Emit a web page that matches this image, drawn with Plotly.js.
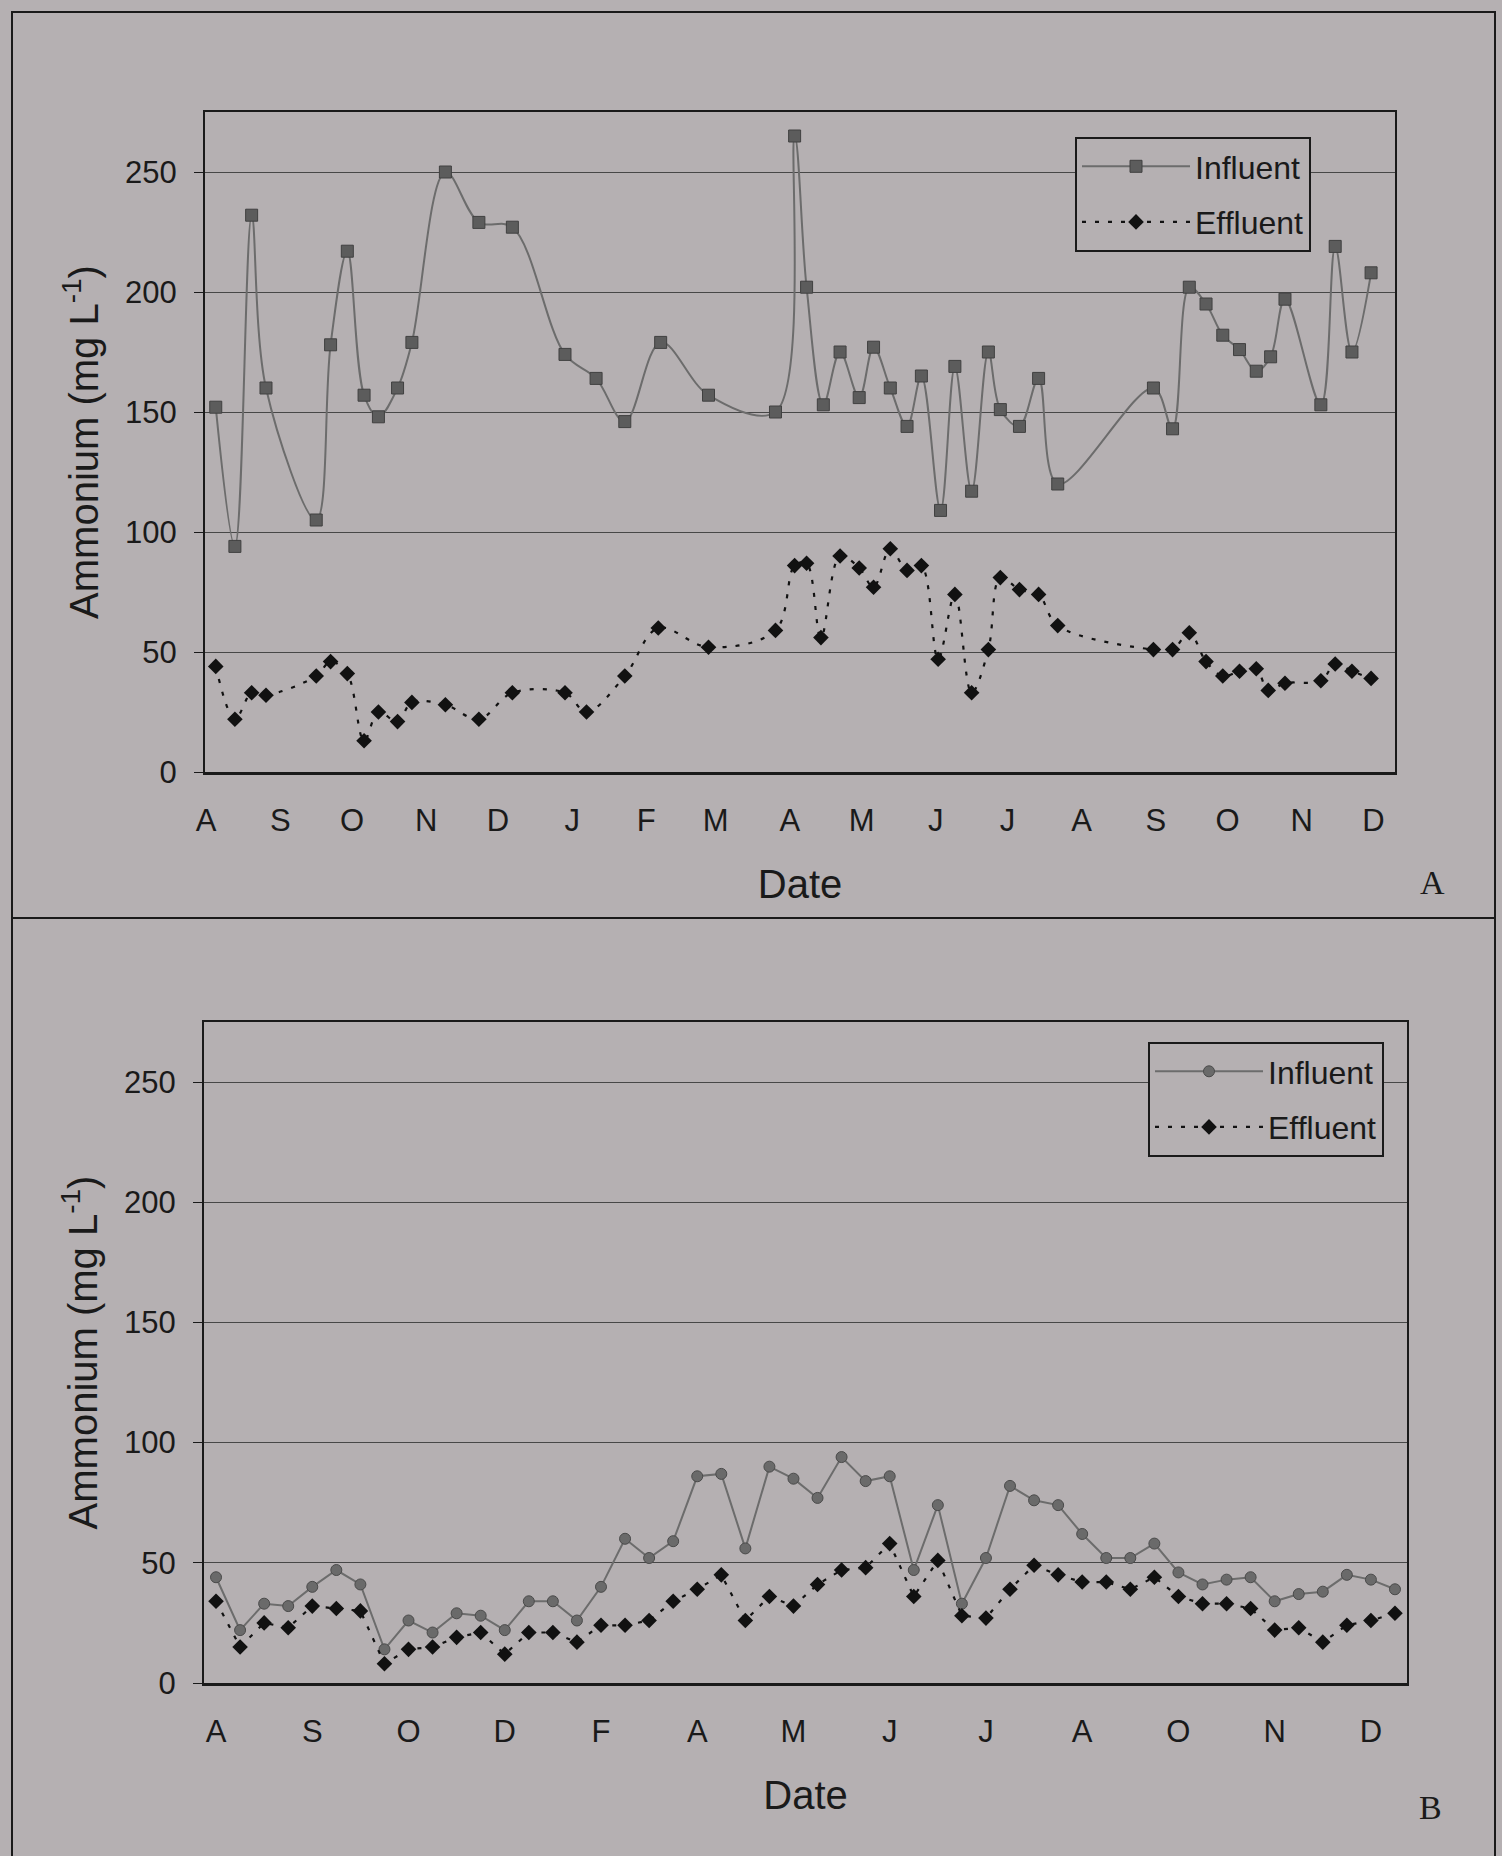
<!DOCTYPE html>
<html>
<head>
<meta charset="utf-8">
<script src="https://cdn.plot.ly/plotly-3.0.1.min.js"></script>
<style>
html,body{margin:0;padding:0;background:#b5b0b2;}
#chart{width:1502px;height:1856px;}
</style>
</head>
<body>
<div id="chart"></div>
<script>
// ---------- Panel A data (date axis) ----------
const datesAInfluent = ['2003-08-05','2003-08-13','2003-08-20','2003-08-26','2003-09-16','2003-09-22','2003-09-29','2003-10-06','2003-10-12','2003-10-20',
  '2003-10-26','2003-11-09','2003-11-23','2003-12-07','2003-12-29','2004-01-11','2004-01-23','2004-02-07','2004-02-27','2004-03-26',
  '2004-04-03','2004-04-08','2004-04-15','2004-04-22','2004-04-30','2004-05-06','2004-05-13','2004-05-20','2004-05-26','2004-06-03',
  '2004-06-09','2004-06-16','2004-06-23','2004-06-28','2004-07-06','2004-07-14','2004-07-22','2004-08-31','2004-09-08','2004-09-15',
  '2004-09-22','2004-09-29','2004-10-06','2004-10-13','2004-10-19','2004-10-25','2004-11-09','2004-11-15','2004-11-22','2004-11-30'];
const influentA = [152,94,232,160,105,178,217,157,148,160,
  179,250,229,227,174,164,146,179,157,150,
  265,202,153,175,156,177,160,144,165,109,
  169,117,175,151,144,164,120,160,143,202,
  195,182,176,167,173,197,153,219,175,208];

const datesAEffluent = ['2003-08-05','2003-08-13','2003-08-20','2003-08-26','2003-09-16','2003-09-22','2003-09-29','2003-10-06','2003-10-12','2003-10-20',
  '2003-10-26','2003-11-09','2003-11-23','2003-12-07','2003-12-29','2004-01-07','2004-01-23','2004-02-06','2004-02-27','2004-03-26',
  '2004-04-03','2004-04-08','2004-04-14','2004-04-22','2004-04-30','2004-05-06','2004-05-13','2004-05-20','2004-05-26','2004-06-02',
  '2004-06-09','2004-06-16','2004-06-23','2004-06-28','2004-07-06','2004-07-14','2004-07-22','2004-08-31','2004-09-08','2004-09-15',
  '2004-09-22','2004-09-29','2004-10-06','2004-10-13','2004-10-18','2004-10-25','2004-11-09','2004-11-15','2004-11-22','2004-11-30'];
const effluentA = [44,22,33,32,40,46,41,13,25,21,
  29,28,22,33,33,25,40,60,52,59,
  86,87,56,90,85,77,93,84,86,47,
  74,33,51,81,76,74,61,51,51,58,
  46,40,42,43,34,37,38,45,42,39];

const tickDatesA = ['2003-08-01','2003-09-01','2003-10-01','2003-11-01','2003-12-01','2004-01-01','2004-02-01','2004-03-01','2004-04-01',
  '2004-05-01','2004-06-01','2004-07-01','2004-08-01','2004-09-01','2004-10-01','2004-11-01','2004-12-01'];
const tickLabelsA = ['A','S','O','N','D','J','F','M','A','M','J','J','A','S','O','N','D'];

// ---------- Panel B data (sample-number axis) ----------
const sampleB = [1,2,3,4,5,6,7,8,9,10,11,12,13,14,15,16,17,18,19,20,21,22,23,24,25,
  26,27,28,29,30,31,32,33,34,35,36,37,38,39,40,41,42,43,44,45,46,47,48,49,50];
const influentB = [44,22,33,32,40,47,41,14,26,21,
  29,28,22,34,34,26,40,60,52,59,
  86,87,56,90,85,77,94,84,86,47,
  74,33,52,82,76,74,62,52,52,58,
  46,41,43,44,34,37,38,45,43,39];
const effluentB = [34,15,25,23,32,31,30,8,14,15,
  19,21,12,21,21,17,24,24,26,34,
  39,45,26,36,32,41,47,48,58,36,
  51,28,27,39,49,45,42,42,39,44,
  36,33,33,31,22,23,17,24,26,29];
const tickSamplesB = [1,5,9,13,17,21,25,29,33,37,41,45,49];
const tickLabelsB = ['A','S','O','D','F','A','M','J','J','A','O','N','D'];

const yTickValues = [0,50,100,150,200,250];
const seriesNames = ['Influent','Effluent'];
const yTitle = 'Ammonium (mg L<sup>-1</sup>)';
const xTitle = 'Date';

// ---------- Styles ----------
const W = 1502, H = 1856;
const BG = '#b5b0b2';
const INK = '#1a1a1a';
const FONT = 'Liberation Sans, Arial, sans-serif';
const SERIF = 'Liberation Serif, Times New Roman, serif';
const px = v => v / W;
const py = v => 1 - v / H;

const infLine = {color:'#6c6c6c', width:2};
const effLine = {color:'#111111', width:2.2, dash:'4px,9px'};

const traces = [
  {x: datesAInfluent, y: influentA, name: seriesNames[0], xaxis:'x', yaxis:'y', legend:'legend', legendgroup:'a1',
   mode:'lines+markers', line:Object.assign({shape:'spline', smoothing:1}, infLine),
   marker:{symbol:'square', size:12, color:'#5c5c5c', line:{color:'#404040', width:1}}},
  {x: datesAEffluent, y: effluentA, name: seriesNames[1], xaxis:'x', yaxis:'y', legend:'legend', legendgroup:'a2',
   mode:'lines+markers', line:Object.assign({shape:'spline', smoothing:1}, effLine),
   marker:{symbol:'diamond', size:12, color:'#111111'}},
  {x: sampleB, y: influentB, name: seriesNames[0], xaxis:'x2', yaxis:'y2', legend:'legend2', legendgroup:'b1',
   mode:'lines+markers', line:Object.assign({shape:'linear'}, infLine),
   marker:{symbol:'circle', size:11, color:'#6a6a6a', line:{color:'#4a4a4a', width:1}}},
  {x: sampleB, y: effluentB, name: seriesNames[1], xaxis:'x2', yaxis:'y2', legend:'legend2', legendgroup:'b2',
   mode:'lines+markers', line:Object.assign({shape:'linear'}, effLine),
   marker:{symbol:'diamond', size:12, color:'#111111'}}
];

function yAxis(domain, anchor) {
  return {
    domain: domain, anchor: anchor, range:[0,275], tickvals: yTickValues,
    showgrid:true, gridcolor:'#474747', gridwidth:1, zeroline:false,
    showline:true, mirror:true, linecolor:INK, linewidth:2,
    ticks:'outside', ticklen:9, tickwidth:1, tickcolor:INK,
    tickfont:{family:FONT, size:31, color:INK}, ticklabelstandoff:11,
    title:{text:yTitle, font:{family:FONT, size:40, color:INK}, standoff:14},
    fixedrange:true
  };
}
function xAxis(domain, anchor, extra) {
  return Object.assign({
    domain: domain, anchor: anchor, showgrid:false, zeroline:false,
    showline:true, mirror:true, linecolor:INK, linewidth:2.5, ticks:'',
    tickfont:{family:FONT, size:31, color:INK}, ticklabelstandoff:19, tickangle:0,
    title:{text:xTitle, font:{family:FONT, size:40, color:INK}, standoff:34},
    fixedrange:true
  }, extra);
}
function legendAt(x, y) {
  return {x:x, y:y, xanchor:'left', yanchor:'top', bgcolor:BG, bordercolor:INK, borderwidth:2,
    font:{family:FONT, size:32, color:INK}, itemwidth:108, traceorder:'grouped', tracegroupgap:11};
}

const layout = {
  width:W, height:H, autosize:false,
  margin:{l:0, r:0, t:0, b:0, pad:0},
  paper_bgcolor:BG, plot_bgcolor:BG,
  showlegend:true,
  xaxis: xAxis([px(205), px(1395)], 'y', {type:'date', range:['2003-07-31 12:00','2004-12-10'], tickvals:tickDatesA, ticktext:tickLabelsA}),
  yaxis: yAxis([py(772), py(112)], 'x'),
  xaxis2: xAxis([px(204), px(1407)], 'y2', {type:'linear', range:[0.5,50.5], tickvals:tickSamplesB, ticktext:tickLabelsB}),
  yaxis2: yAxis([py(1683), py(1022)], 'x2'),
  legend: legendAt(px(1075), py(137)),
  legend2: legendAt(px(1148), py(1042)),
  shapes: [
    {type:'rect', xref:'paper', yref:'paper', x0:px(12), x1:px(1495), y0:py(918), y1:py(12), line:{color:INK, width:2}, fillcolor:'rgba(0,0,0,0)', layer:'below'},
    {type:'rect', xref:'paper', yref:'paper', x0:px(12), x1:px(1495), y0:py(1870), y1:py(918), line:{color:INK, width:2}, fillcolor:'rgba(0,0,0,0)', layer:'below'}
  ],
  annotations: [
    {text:'A', xref:'paper', yref:'paper', x:px(1432), y:py(882), xanchor:'center', yanchor:'middle', showarrow:false, font:{family:SERIF, size:34, color:INK}},
    {text:'B', xref:'paper', yref:'paper', x:px(1430), y:py(1807), xanchor:'center', yanchor:'middle', showarrow:false, font:{family:SERIF, size:34, color:INK}}
  ]
};

Plotly.newPlot('chart', traces, layout, {displayModeBar:false, staticPlot:true});
</script>
</body>
</html>
